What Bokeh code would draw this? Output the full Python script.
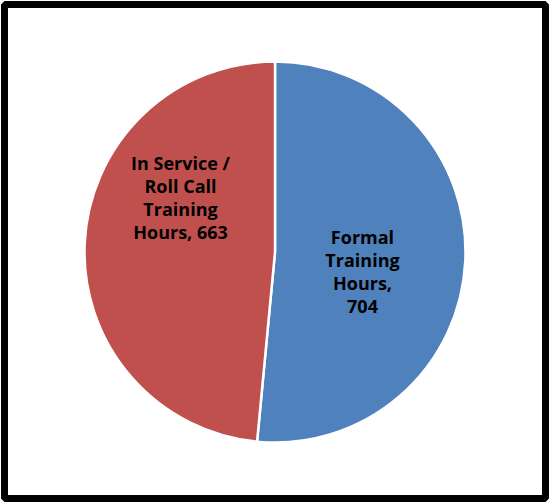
import math
from bokeh.plotting import figure
from bokeh.models import Range1d, ColumnDataSource
from bokeh.core.properties import value
from bokeh.embed import file_html
from bokeh.resources import INLINE

# ---- data ----
categories = ["Formal Training Hours", "In Service / Roll Call Training Hours"]
hours = [704, 663]
colors = ["#4F81BD", "#C0504D"]
label_texts = ["Formal\nTraining\nHours,\n704", "In Service /\nRoll Call\nTraining\nHours, 663"]

# ---- style / layout ----
W, H = 549, 502
CX, CY, R = 274.5, 502 - 251.5, 190.5
label_pix = [(362, 271), (180, 197)]  # pixel centres of the labels (style)

total = sum(hours)
starts, ends = [], []
acc = 0
for h in hours:
    a0 = math.pi / 2 - 2 * math.pi * acc / total
    acc += h
    a1 = math.pi / 2 - 2 * math.pi * acc / total
    starts.append(a1)
    ends.append(a0)

src = ColumnDataSource(dict(x=[CX] * len(hours), y=[CY] * len(hours),
                            start=starts, end=ends, color=colors, cat=categories))

p = figure(width=W, height=H, x_range=Range1d(0, W), y_range=Range1d(0, H),
           output_backend="svg", toolbar_location=None, min_border=0)
p.axis.visible = False
p.grid.visible = False
p.outline_line_color = None
p.background_fill_color = "white"

p.wedge(x="x", y="y", radius=R, start_angle="start", end_angle="end",
        fill_color="color", line_color="white", line_width=2.5, source=src)

lsrc = ColumnDataSource(dict(x=[lx for lx, ly in label_pix], y=[H - ly for lx, ly in label_pix],
                             t=label_texts))
p.text(x="x", y="y", text="t", source=lsrc, text_align="center", text_baseline="middle",
       text_font=value("Open Sans"), text_font_style="bold", text_font_size="18px",
       text_color="black", text_line_height=0.95)

# outer black frame
p.rect(x=[W / 2], y=[H / 2], width=W - 8, height=H - 8, fill_color=None,
       line_color="black", line_width=7)

open("out.html", "w").write(file_html(p, INLINE))
